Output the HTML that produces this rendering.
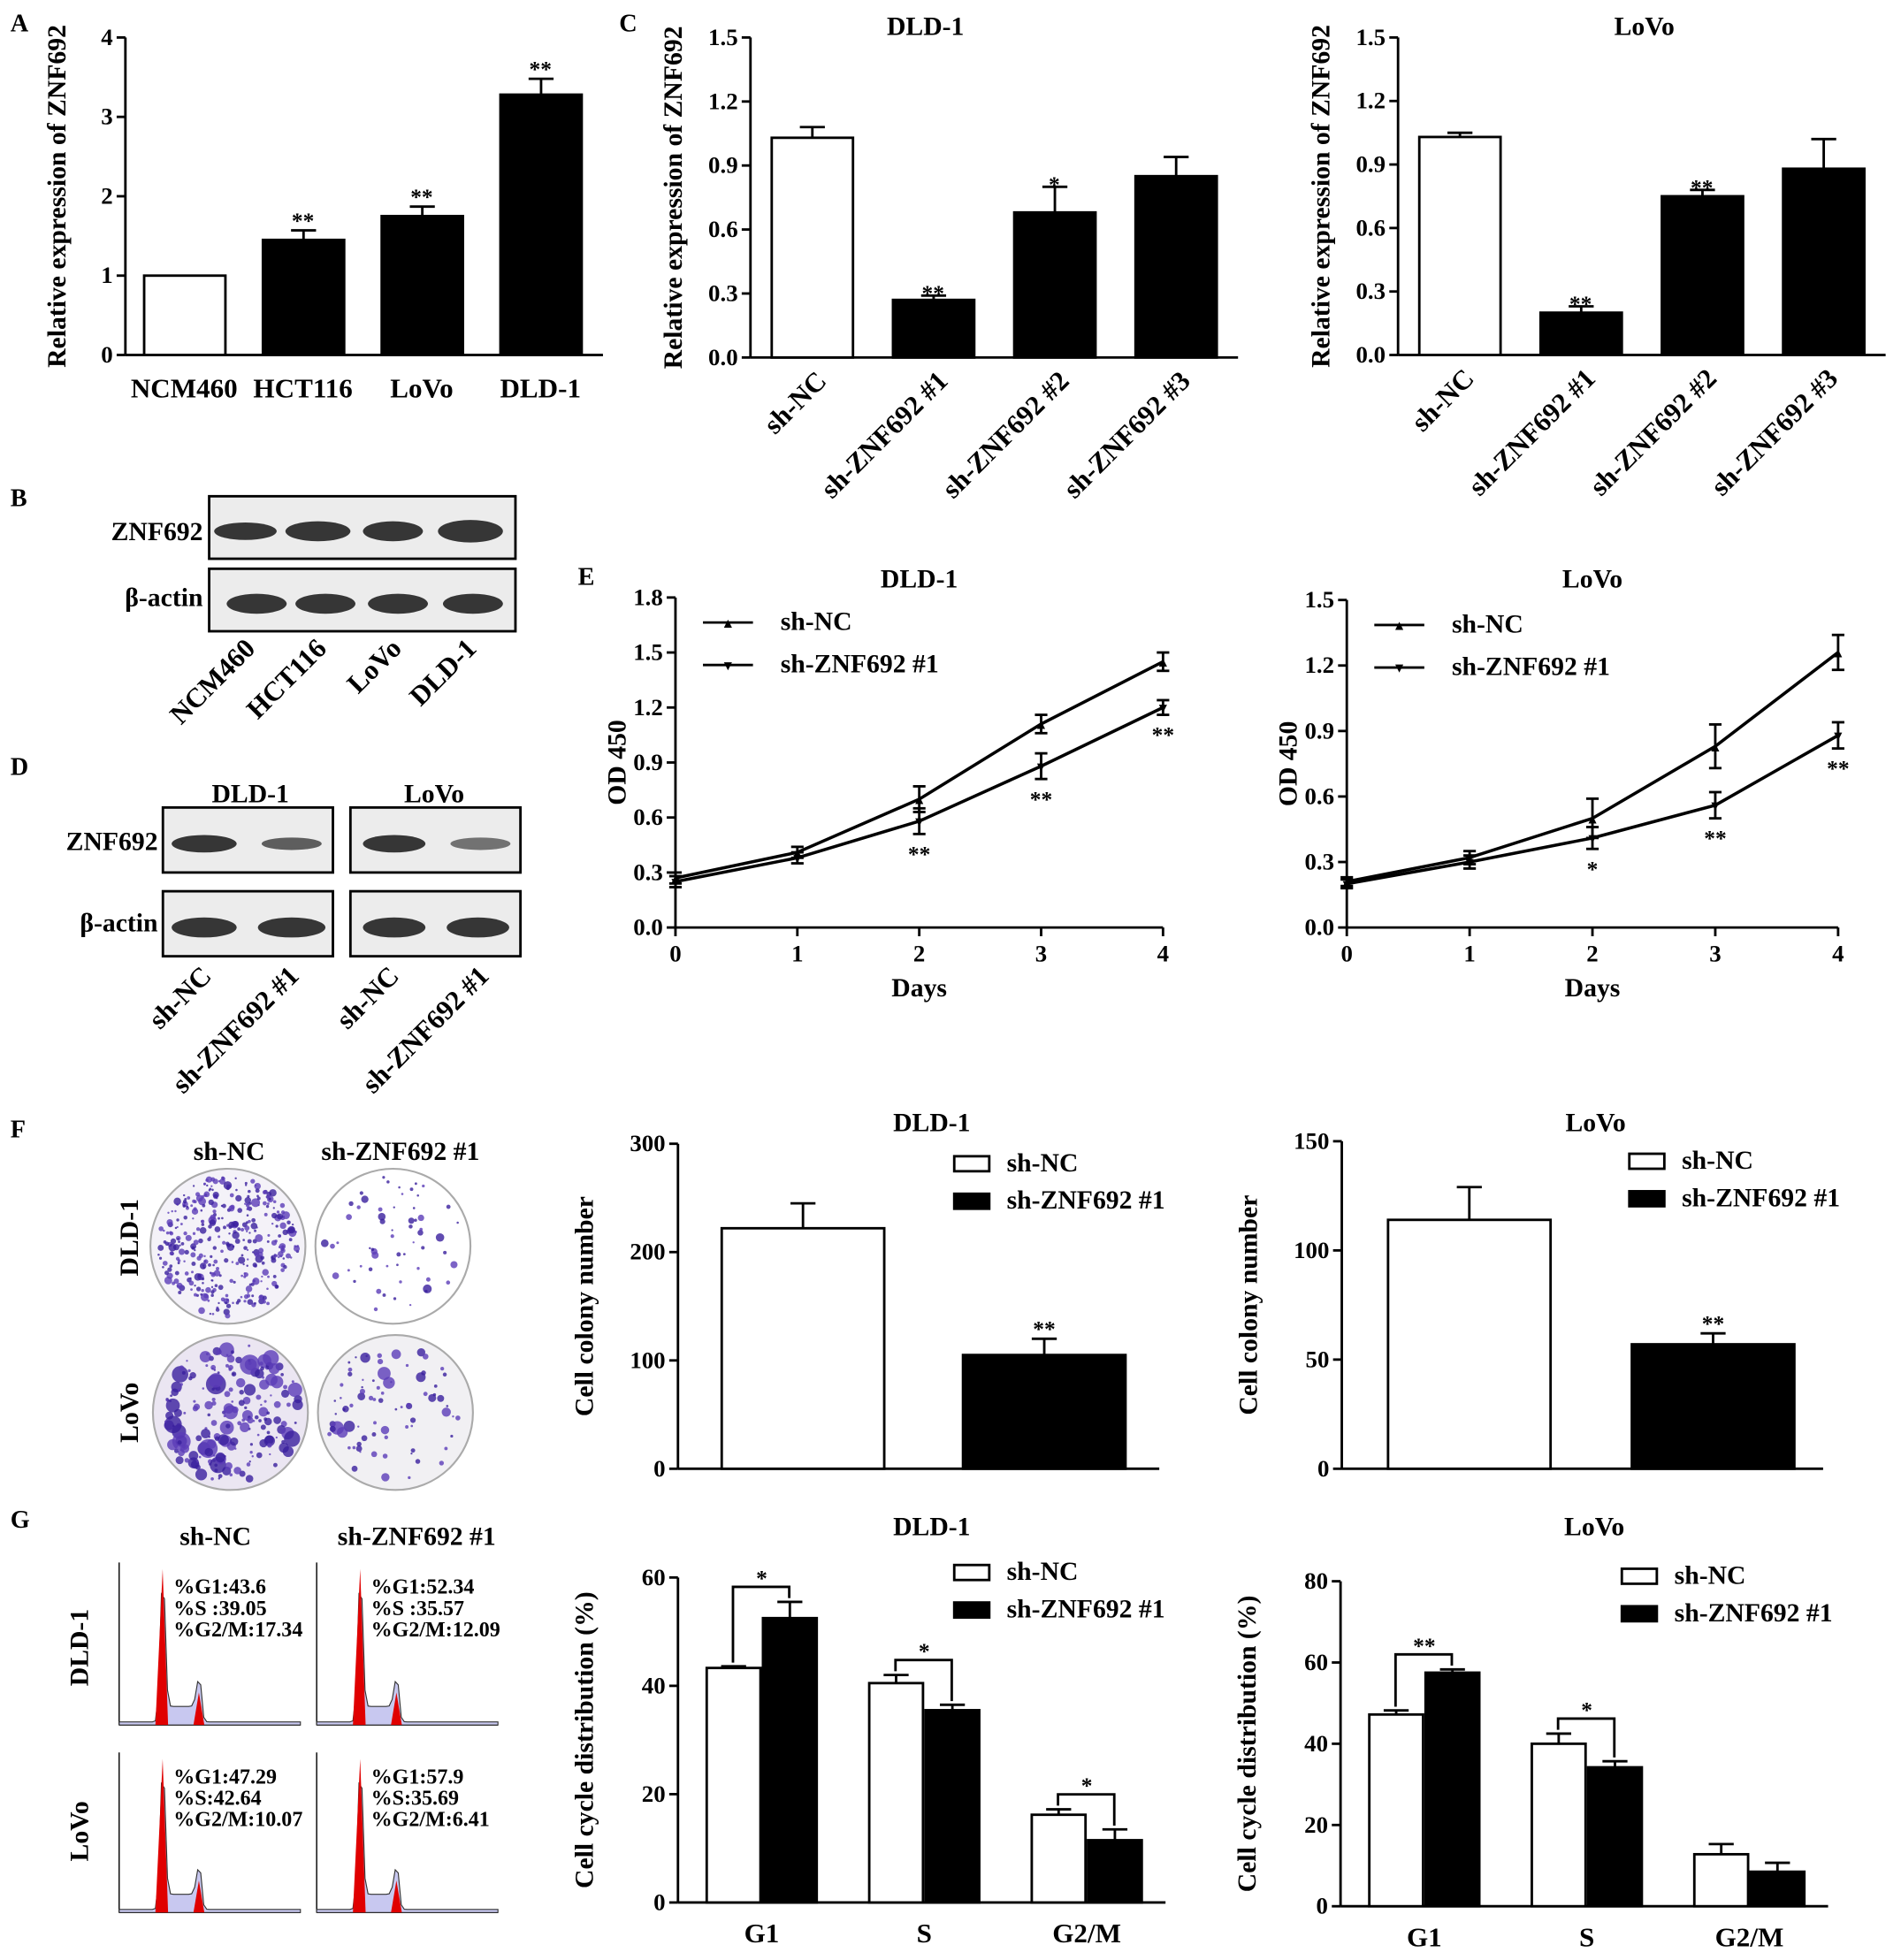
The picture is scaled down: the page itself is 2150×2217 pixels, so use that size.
<!DOCTYPE html>
<html><head><meta charset="utf-8"><style>
html,body{margin:0;padding:0;background:#fff;}
svg{display:block;}
text{font-family:"Liberation Serif",serif;font-weight:bold;fill:#000;}
</style></head><body>
<svg id="fig" xmlns="http://www.w3.org/2000/svg" width="2150" height="2217" viewBox="0 0 1520 1568">
<g id="root"></g>
</svg>
<script>
// ---- data ----
const aCats=["NCM460","HCT116","LoVo","DLD-1"];
const aVals=[1,1.45,1.75,3.28];
const aErr=[0,0.12,0.12,0.2];
const aStars=["","**","**","**"];
const cCats=["sh-NC","sh-ZNF692 #1","sh-ZNF692 #2","sh-ZNF692 #3"];
const cDldVals=[1.03,0.27,0.68,0.85];
const cDldErr=[0.05,0.02,0.12,0.09];
const cDldStars=["","**","*",""];
const cLovoVals=[1.03,0.2,0.75,0.88];
const cLovoErr=[0.02,0.03,0.03,0.14];
const cLovoStars=["","**","**",""];
const eDays=[0,1,2,3,4];
const eDldNC=[0.27,0.41,0.70,1.11,1.45];
const eDldNCErr=[0.03,0.03,0.07,0.05,0.05];
const eDldKD=[0.25,0.38,0.58,0.88,1.2];
const eDldKDErr=[0.03,0.03,0.07,0.07,0.04];
const eDldStars=["","","**","**","**"];
const eLovoNC=[0.21,0.32,0.5,0.83,1.26];
const eLovoNCErr=[0.02,0.03,0.09,0.1,0.08];
const eLovoKD=[0.2,0.3,0.41,0.56,0.88];
const eLovoKDErr=[0.02,0.03,0.05,0.06,0.06];
const eLovoStars=["","","*","**","**"];
const fDldVals=[222,105];
const fDldErr=[23,15];
const fLovoVals=[114,57];
const fLovoErr=[15,5];
const gCats=["G1","S","G2/M"];
const gDldNC=[43.3,40.5,16.2];
const gDldNCErr=[0.3,1.5,1];
const gDldKD=[52.5,35.5,11.5];
const gDldKDErr=[3,1,2];
const gDldStars=["*","*","*"];
const gLovoNC=[47.2,40,12.8];
const gLovoNCErr=[1,2.5,2.5];
const gLovoKD=[57.5,34.2,8.5];
const gLovoKDErr=[0.8,1.5,2.2];
const gLovoStars=["**","*",""];

const NS="http://www.w3.org/2000/svg";
const root=document.getElementById('root');
function el(tag,attrs,parent,txt){const e=document.createElementNS(NS,tag);for(const k in attrs)e.setAttribute(k,attrs[k]);if(txt!==undefined)e.textContent=txt;(parent||root).appendChild(e);return e;}
function grp(name){const g=el('g',{});return g;}
function txt(g,x,y,s,size,anchor,rot,name){const t=el('text',{x:x,y:y,'font-size':size,'text-anchor':anchor||'middle'},g,s);if(rot)t.setAttribute('transform',`rotate(${rot} ${x} ${y})`);return t;}
function line(g,x1,y1,x2,y2,w){return el('line',{x1,y1,x2,y2,stroke:'#000','stroke-width':w||2},g);}
function yAxis(g,x,y0,y1,max,ticks,fmt,xEnd,title,tx){
  const sc=v=>y0-(y0-y1)*v/max;
  line(g,x,y0,x,y1);line(g,x,y0,xEnd,y0);
  ticks.forEach(t=>{const y=sc(t);line(g,x-7,y,x,y);txt(g,x-10,y+6,fmt(t),19,'end',0,'y-tick-label');});
  txt(g,tx,(y0+y1)/2,title,21,'middle',-90,'y-axis-title');
  return sc;
}
function bar(g,x,w,y0,sc,v,e,fill,name){
  const r=el('rect',{x:x,y:sc(v),width:w,height:y0-sc(v),fill:fill,stroke:'#000','stroke-width':2},g);
  
  if(e>0){const cx=x+w/2;line(g,cx,sc(v),cx,sc(v+e));line(g,cx-10,sc(v+e),cx+10,sc(v+e));}
}
function panelLetter(s,x,y){txt(root,x,y,s,20,'start',0,'panel-letter-'+s.toLowerCase());}

// Panel A
panelLetter("A",8,25);
(function(){const g=grp('panel-a-chart');
 const sc=yAxis(g,100,284,30,4,[0,1,2,3,4],t=>t,482,"Relative expression of ZNF692",52);
 const xs=[115,210,305,400];
 aCats.forEach((c,i)=>{bar(g,xs[i],65,284,sc,aVals[i],aErr[i],i==0?'#fff':'#000','bar-'+c.toLowerCase());
  if(aStars[i])txt(g,xs[i]+32,sc(aVals[i]+aErr[i])-2,aStars[i],18,'middle',0,'significance-stars');
  txt(g,xs[i]+32,318,c,22,'middle',0,'x-tick-label');});
})();

// Panel C
panelLetter("C",495,25);
function panelC(name,ax,y0,vals,errs,stars,title,tx,ttx){
 const g=grp(name);
 const sc=yAxis(g,ax,y0,30,1.5,[0,0.3,0.6,0.9,1.2,1.5],t=>t.toFixed(1),ax+390,"Relative expression of ZNF692",tx);
 txt(g,ttx,28,title,21,'middle',0,'chart-title');
 cCats.forEach((c,i)=>{const x=ax+17+i*97;bar(g,x,65,y0,sc,vals[i],errs[i],i==0?'#fff':'#000','bar-'+i);
  if(stars[i])txt(g,x+32,sc(vals[i]+errs[i])+4,stars[i],18,'middle',0,'significance-stars');
  txt(g,x+45,y0+20,c,22,'end',-45,'x-tick-label');});
}
panelC('panel-c-dld1-chart',600,286,cDldVals,cDldErr,cDldStars,"DLD-1",545,740);
panelC('panel-c-lovo-chart',1118,284,cLovoVals,cLovoErr,cLovoStars,"LoVo",1063,1315);

// Panel B blot
panelLetter("B",8,405);
function blot(g,x,y,w,h,bands){el('rect',{x,y,width:w,height:h,fill:'#ececec',stroke:'#000','stroke-width':2},g);
 bands.forEach(b=>el('ellipse',{cx:b[0],cy:y+h/2+3,rx:b[1],ry:b[2],fill:'#222',opacity:b[3]||0.9},g));}
(function(){const g=grp('panel-b-western-blot');
 blot(g,167,397,245,50,[[196,25,7],[254,26,8],[314,24,8],[376,26,9]]);
 blot(g,167,455,245,50,[[205,24,8],[260,24,8],[318,24,8],[378,24,8]]);
 txt(g,162,432,"ZNF692",21,'end',0,'row-label');txt(g,162,485,"β-actin",21,'end',0,'row-label');
 ["NCM460","HCT116","LoVo","DLD-1"].forEach((c,i)=>txt(g,[205,262,322,382][i],520,c,22,'end',-45,'lane-label'));
})();

// Panel D blot
panelLetter("D",8,620);
(function(){const g=grp('panel-d-western-blot');
 blot(g,130,646,136,52,[[163,26,7],[233,24,5,0.7]]);blot(g,280,646,136,52,[[315,25,7],[384,24,5,0.6]]);
 blot(g,130,713,136,52,[[163,26,8],[233,27,8]]);blot(g,280,713,136,52,[[315,25,8],[382,25,8]]);
 txt(g,200,642,"DLD-1",21,'middle',0,'group-label');txt(g,347,642,"LoVo",21,'middle',0,'group-label');
 txt(g,126,680,"ZNF692",21,'end',0,'row-label');txt(g,126,745,"β-actin",21,'end',0,'row-label');
 [[170,"sh-NC"],[240,"sh-ZNF692 #1"],[320,"sh-NC"],[392,"sh-ZNF692 #1"]].forEach(a=>txt(g,a[0],782,a[1],22,'end',-45,'lane-label'));
})();

// Panel E
panelLetter("E",462,468);
function panelE(name,ax,x4,ymax,top,nc,ncE,kd,kdE,stars,title,ticks){
 const g=grp(name);const y0=742;
 const sc=yAxis(g,ax,y0,top,ymax,ticks,t=>t.toFixed(1),x4,"OD 450",ax-40);
 const xs=d=>ax+(x4-ax)*d/4;
 eDays.forEach(d=>{line(g,xs(d),y0,xs(d),y0+7);txt(g,xs(d),y0+27,d,19,'middle',0,'x-tick-label');});
 txt(g,(ax+x4)/2,y0+55,"Days",21,'middle',0,'x-axis-title');
 txt(g,(ax+x4)/2,470,title,21,'middle',0,'chart-title');
 [[nc,ncE,'▲','sh-nc'],[kd,kdE,'▼','sh-znf692']].forEach(s=>{
  const p=el('polyline',{points:eDays.map(d=>xs(d)+','+sc(s[0][d])).join(' '),fill:'none',stroke:'#000','stroke-width':2.5},g);
  
  eDays.forEach(d=>{const x=xs(d);line(g,x,sc(s[0][d]-s[1][d]),x,sc(s[0][d]+s[1][d]));line(g,x-5,sc(s[0][d]-s[1][d]),x+5,sc(s[0][d]-s[1][d]));line(g,x-5,sc(s[0][d]+s[1][d]),x+5,sc(s[0][d]+s[1][d]));
   txt(g,x,sc(s[0][d])+4,s[2],11,'middle',0,'marker');});
 });
 stars.forEach((s,d)=>{if(s)txt(g,xs(d),sc(kd[d]-kdE[d])+22,s,18,'middle',0,'significance-stars');});
 const lx=ax+22;
 [['▲','sh-NC',top+26],['▼','sh-ZNF692 #1',top+60]].forEach(l=>{line(g,lx,l[2]-6,lx+40,l[2]-6);txt(g,lx+20,l[2]-2,l[0],11,'middle',0,'legend-marker');txt(g,lx+62,l[2],l[1],21,'start',0,'legend-label');});
}
panelE('panel-e-dld1-chart',540,930,1.8,478,eDldNC,eDldNCErr,eDldKD,eDldKDErr,eDldStars,"DLD-1",[0,0.3,0.6,0.9,1.2,1.5,1.8]);
panelE('panel-e-lovo-chart',1077,1470,1.5,480,eLovoNC,eLovoNCErr,eLovoKD,eLovoKDErr,eLovoStars,"LoVo",[0,0.3,0.6,0.9,1.2,1.5]);

// Panel F colonies
panelLetter("F",8,910);
let seed=7;function rnd(){seed=(seed*16807)%2147483647;return seed/2147483647;}
function dish(g,cx,cy,r,n,maxr,bg){el('circle',{cx,cy,r,fill:bg,stroke:'#aaa','stroke-width':1.5},g);
 for(let i=0;i<n;i++){const a=rnd()*6.283,d=Math.sqrt(rnd())*(r-6);el('circle',{cx:cx+d*Math.cos(a),cy:cy+d*Math.sin(a),r:0.8+rnd()*rnd()*maxr,fill:rnd()<0.5?'#3a1f9e':'#5b3cb8',opacity:0.8},g);}}
(function(){const g=grp('panel-f-colony-images');
 txt(g,183,928,"sh-NC",21,'middle',0,'column-label');txt(g,320,928,"sh-ZNF692 #1",21,'middle',0,'column-label');
 txt(g,110,990,"DLD-1",21,'middle',-90,'row-label');txt(g,110,1130,"LoVo",21,'middle',-90,'row-label');
 dish(g,182,997,62,380,3,'#f4f2f8');dish(g,314,997,62,60,3.5,'#fff');dish(g,184,1130,62,200,8,'#ebe6f2');dish(g,316,1130,62,80,5,'#f1f0f3');
})();

function legend(g,x,y){[['#fff','sh-NC',y],['#000','sh-ZNF692 #1',y+30]].forEach(l=>{const r=el('rect',{x,y:l[2]-12,width:28,height:12,fill:l[0],stroke:'#000','stroke-width':2},g);txt(g,x+42,l[2],l[1],21,'start',0,'legend-label');});}
function panelF(name,ax,top,max,ticks,vals,errs,title,xs,lx){
 const g=grp(name);const y0=1175;
 const sc=yAxis(g,ax,y0,top,max,ticks,t=>t,ax+385,"Cell colony number",ax-68);
 txt(g,ax+203,905,title,21,'middle',0,'chart-title');
 vals.forEach((v,i)=>bar(g,xs[i],130,y0,sc,v,errs[i],i==0?'#fff':'#000','bar-'+i));
 txt(g,xs[1]+65,sc(vals[1]+errs[1])-2,"**",18,'middle',0,'significance-stars');
 legend(g,lx,top+22);
}
panelF('panel-f-dld1-chart',542,915,300,[0,100,200,300],fDldVals,fDldErr,"DLD-1",[577,770],763);
panelF('panel-f-lovo-chart',1073,913,150,[0,50,100,150],fLovoVals,fLovoErr,"LoVo",[1110,1305],1303);

// Panel G flow
panelLetter("G",8,1222);
function hist(g,x,y,w,h,labels){el('rect',{x,y,width:w,height:h,fill:'#fff'},g);
 line(g,x,y,x,y+h,1);line(g,x,y+h,x+w,y+h,1);
 const p=[];for(let i=0;i<=60;i++){const t=i/60;let v=Math.exp(-Math.pow((t-0.24)/0.018,2))*0.95+Math.exp(-Math.pow((t-0.44)/0.02,2))*0.18+(t>0.24&&t<0.46?0.1:0)+0.02;p.push((x+t*w)+','+(y+h-v*h*0.95));}
 el('polygon',{points:x+','+(y+h)+' '+p.join(' ')+' '+(x+w)+','+(y+h),fill:'#c8c8f0',stroke:'#333','stroke-width':0.8},g);
 el('polygon',{points:`${x+w*0.2},${y+h} ${x+w*0.24},${y+h*0.04} ${x+w*0.27},${y+h}`,fill:'#e00000'},g);
 el('polygon',{points:`${x+w*0.41},${y+h} ${x+w*0.44},${y+h*0.8} ${x+w*0.47},${y+h}`,fill:'#e00000'},g);
 labels.forEach((l,i)=>txt(g,x+w*0.3,y+25+i*17,l,17,'start',0,'percentage-label'));}
(function(){const g=grp('panel-g-flow-histograms');
 txt(g,172,1236,"sh-NC",21,'middle',0,'column-label');txt(g,333,1236,"sh-ZNF692 #1",21,'middle',0,'column-label');
 txt(g,70,1318,"DLD-1",21,'middle',-90,'row-label');txt(g,70,1465,"LoVo",21,'middle',-90,'row-label');
 hist(g,95,1250,145,130,["%G1:43.6","%S :39.05","%G2/M:17.34"]);hist(g,253,1250,145,130,["%G1:52.34","%S :35.57","%G2/M:12.09"]);
 hist(g,95,1402,145,128,["%G1:47.29","%S:42.64","%G2/M:10.07"]);hist(g,253,1402,145,128,["%G1:57.9","%S:35.69","%G2/M:6.41"]);
})();
function panelG(name,ax,y0,top,max,ticks,nc,ncE,kd,kdE,stars,title,lx){
 const g=grp(name);
 const sc=yAxis(g,ax,y0,top,max,ticks,t=>t,ax+390,"Cell cycle distribution (%)",ax-68);
 txt(g,ax+203,1228,title,21,'middle',0,'chart-title');
 gCats.forEach((c,i)=>{const x=ax+23+i*130;
  bar(g,x,43,y0,sc,nc[i],ncE[i],'#fff','bar-nc-'+c);bar(g,x+45,43,y0,sc,kd[i],kdE[i],'#000','bar-kd-'+c);
  txt(g,x+44,y0+32,c,22,'middle',0,'x-tick-label');
  if(stars[i]){const yt=sc(Math.max(nc[i]+ncE[i],kd[i]+kdE[i]))-12;
   el('polyline',{points:`${x+21},${sc(nc[i]+ncE[i])-3} ${x+21},${yt} ${x+66},${yt} ${x+66},${sc(kd[i]+kdE[i])-3}`,fill:'none',stroke:'#000','stroke-width':2},g);
   txt(g,x+44,yt-1,stars[i],18,'middle',0,'significance-stars');}
 });
 legend(g,lx,top+2);
}
panelG('panel-g-dld1-chart',542,1522,1262,60,[0,20,40,60],gDldNC,gDldNCErr,gDldKD,gDldKDErr,gDldStars,"DLD-1",763);
panelG('panel-g-lovo-chart',1072,1525,1265,80,[0,20,40,60,80],gLovoNC,gLovoNCErr,gLovoKD,gLovoKDErr,gLovoStars,"LoVo",1297);
</script>
</body></html>
